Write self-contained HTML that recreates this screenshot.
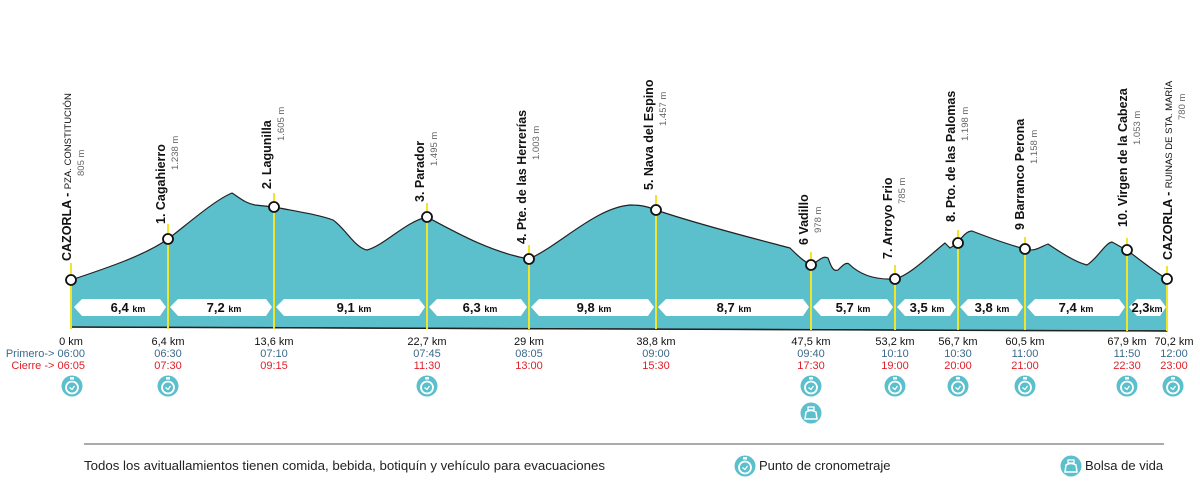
<!DOCTYPE html>
<html><head><meta charset="utf-8"><style>
html,body{margin:0;padding:0;background:#fff;}
svg{display:block;font-family:"Liberation Sans",sans-serif;}
.n{font-weight:bold;font-size:12.5px;fill:#111;}
.a{font-size:9.5px;fill:#666;}
.km{font-size:11px;fill:#111;}
.p{font-size:11px;fill:#3c6a8a;}
.c{font-size:11px;fill:#e0202a;}
.s{font-weight:bold;font-size:13px;fill:#111;}
.su{font-weight:bold;font-size:9px;fill:#111;}
</style></head><body>
<svg width="1200" height="482" viewBox="0 0 1200 482">
<defs>
<g id="clk"><circle r="10.5" fill="#5bbfcc"/><circle cy="1.5" r="6" fill="none" stroke="#fff" stroke-width="1.8"/><rect x="-2" y="-9" width="4" height="2.5" fill="#fff"/><path d="M-2.5 1.5 L0 3.5 L2.5 0" stroke="#fff" stroke-width="1.3" fill="none"/></g>
<g id="bag"><circle r="10.5" fill="#5bbfcc"/><path d="M-6 6 L-5 -1 Q0 -4 5 -1 L6 6 Z" fill="none" stroke="#fff" stroke-width="1.5"/><rect x="-3" y="-6" width="6" height="3" fill="none" stroke="#fff" stroke-width="1.3"/></g>
</defs>
<path d="M71,280 C110,267 145,255 168,239 C190,222 215,200 232,193 C240,198 245,203 255,205 L274,207 C300,212 320,215 333,220 C345,228 355,248 367,250 C385,245 405,222 427,217 C455,232 490,252 529,259 C560,245 595,208 630,205 C645,205 650,208 656,210 C700,225 760,240 790,248 C800,258 805,262 811,265 C818,262 822,255 828,258 C831,266 833,272 838,270 C843,265 846,262 849,264 C860,275 875,280 895,279 C910,275 930,255 945,243 L950,248 L958,243 C963,235 968,231 972,231 C990,238 1010,245 1025,249 C1035,252 1040,247 1048,244 C1060,252 1075,262 1087,265 C1098,258 1105,243 1112,242 C1118,245 1122,248 1127,250 C1140,260 1155,272 1167,279 L1167,331 L71,327 Z" fill="#5bbfcc" stroke="#222" stroke-width="1.2"/>
<line x1="71" y1="327" x2="1167" y2="331" stroke="#222" stroke-width="1.5"/>
<g fill="#fff">
<path d="M74,307 L82,299 L160,299 L166,307 L160,316 L82,316 Z"/>
<path d="M170,307 L178,299 L266,299 L272,307 L266,316 L178,316 Z"/>
<path d="M276,307 L284,299 L419,299 L425,307 L419,316 L284,316 Z"/>
<path d="M429,307 L437,299 L521,299 L527,307 L521,316 L437,316 Z"/>
<path d="M531,307 L539,299 L648,299 L654,307 L648,316 L539,316 Z"/>
<path d="M658,307 L666,299 L803,299 L809,307 L803,316 L666,316 Z"/>
<path d="M813,307 L821,299 L887,299 L893,307 L887,316 L821,316 Z"/>
<path d="M897,307 L905,299 L950,299 L956,307 L950,316 L905,316 Z"/>
<path d="M960,307 L968,299 L1017,299 L1023,307 L1017,316 L968,316 Z"/>
<path d="M1027,307 L1035,299 L1119,299 L1125,307 L1119,316 L1035,316 Z"/>
<path d="M1129,307 L1137,299 L1160,299 L1166,307 L1160,316 L1137,316 Z"/>
</g>
<g text-anchor="middle">
<text x="128" y="312"><tspan class="s">6,4 </tspan><tspan class="su">km</tspan></text>
<text x="224" y="312"><tspan class="s">7,2 </tspan><tspan class="su">km</tspan></text>
<text x="354" y="312"><tspan class="s">9,1 </tspan><tspan class="su">km</tspan></text>
<text x="480" y="312"><tspan class="s">6,3 </tspan><tspan class="su">km</tspan></text>
<text x="594" y="312"><tspan class="s">9,8 </tspan><tspan class="su">km</tspan></text>
<text x="734" y="312"><tspan class="s">8,7 </tspan><tspan class="su">km</tspan></text>
<text x="853" y="312"><tspan class="s">5,7 </tspan><tspan class="su">km</tspan></text>
<text x="927" y="312"><tspan class="s">3,5 </tspan><tspan class="su">km</tspan></text>
<text x="992" y="312"><tspan class="s">3,8 </tspan><tspan class="su">km</tspan></text>
<text x="1076" y="312"><tspan class="s">7,4 </tspan><tspan class="su">km</tspan></text>
<text x="1147" y="312"><tspan class="s">2,3</tspan><tspan class="su">km</tspan></text>
</g>
<g stroke="#f0e52a" stroke-width="2">
<line x1="71" y1="263" x2="71" y2="329"/>
<line x1="168" y1="224" x2="168" y2="329"/>
<line x1="274" y1="193" x2="274" y2="329"/>
<line x1="427" y1="203" x2="427" y2="329"/>
<line x1="529" y1="245" x2="529" y2="329"/>
<line x1="656" y1="195" x2="656" y2="329"/>
<line x1="811" y1="252" x2="811" y2="330"/>
<line x1="895" y1="265" x2="895" y2="330"/>
<line x1="958" y1="230" x2="958" y2="330"/>
<line x1="1025" y1="237" x2="1025" y2="330"/>
<line x1="1127" y1="238" x2="1127" y2="331"/>
<line x1="1167" y1="266" x2="1167" y2="331"/>
</g>
<g fill="#fff" stroke="#111" stroke-width="1.8">
<circle cx="71" cy="280" r="5"/><circle cx="168" cy="239" r="5"/><circle cx="274" cy="207" r="5"/><circle cx="427" cy="217" r="5"/><circle cx="529" cy="259" r="5"/><circle cx="656" cy="210" r="5"/><circle cx="811" cy="265" r="5"/><circle cx="895" cy="279" r="5"/><circle cx="958" cy="243" r="5"/><circle cx="1025" cy="249" r="5"/><circle cx="1127" cy="250" r="5"/><circle cx="1167" cy="279" r="5"/>
</g>
<g>
<text class="n" transform="translate(71,261) rotate(-90)">CAZORLA - <tspan font-size="9.5" font-weight="normal">PZA. CONSTITUCIÓN</tspan></text>
<text class="a" transform="translate(84,176) rotate(-90)">805 m</text>
<text class="n" transform="translate(165,224) rotate(-90)">1. Cagahierro</text>
<text class="a" transform="translate(178,170) rotate(-90)">1.238 m</text>
<text class="n" transform="translate(271,189) rotate(-90)">2. Lagunilla</text>
<text class="a" transform="translate(284,141) rotate(-90)">1.605 m</text>
<text class="n" transform="translate(424,202) rotate(-90)">3. Parador</text>
<text class="a" transform="translate(437,166) rotate(-90)">1.495 m</text>
<text class="n" transform="translate(526,244) rotate(-90)">4. Pte. de las Herrerías</text>
<text class="a" transform="translate(539,160) rotate(-90)">1.003 m</text>
<text class="n" transform="translate(653,190) rotate(-90)">5. Nava del Espino</text>
<text class="a" transform="translate(666,126) rotate(-90)">1.457 m</text>
<text class="n" transform="translate(808,245) rotate(-90)">6 Vadillo</text>
<text class="a" transform="translate(821,233) rotate(-90)">978 m</text>
<text class="n" transform="translate(892,259) rotate(-90)">7. Arroyo Frio</text>
<text class="a" transform="translate(905,204) rotate(-90)">785 m</text>
<text class="n" transform="translate(955,222) rotate(-90)">8. Pto. de las Palomas</text>
<text class="a" transform="translate(968,141) rotate(-90)">1.198 m</text>
<text class="n" transform="translate(1024,230) rotate(-90)">9 Barranco Perona</text>
<text class="a" transform="translate(1037,164) rotate(-90)">1.158 m</text>
<text class="n" transform="translate(1127,227) rotate(-90)">10. Virgen de la Cabeza</text>
<text class="a" transform="translate(1140,145) rotate(-90)">1.053 m</text>
<text class="n" transform="translate(1172,260) rotate(-90)">CAZORLA - <tspan font-size="9.5" font-weight="normal">RUINAS DE STA. MARÍA</tspan></text>
<text class="a" transform="translate(1185,120) rotate(-90)">780 m</text>
</g>
<g text-anchor="middle">
<text class="km" x="71" y="345">0 km</text>
<text class="km" x="168" y="345">6,4 km</text>
<text class="km" x="274" y="345">13,6 km</text>
<text class="km" x="427" y="345">22,7 km</text>
<text class="km" x="529" y="345">29 km</text>
<text class="km" x="656" y="345">38,8 km</text>
<text class="km" x="811" y="345">47,5 km</text>
<text class="km" x="895" y="345">53,2 km</text>
<text class="km" x="958" y="345">56,7 km</text>
<text class="km" x="1025" y="345">60,5 km</text>
<text class="km" x="1127" y="345">67,9 km</text>
<text class="km" x="1174" y="345">70,2 km</text>
<text class="p" x="168" y="357">06:30</text><text class="p" x="274" y="357">07:10</text><text class="p" x="427" y="357">07:45</text><text class="p" x="529" y="357">08:05</text><text class="p" x="656" y="357">09:00</text><text class="p" x="811" y="357">09:40</text><text class="p" x="895" y="357">10:10</text><text class="p" x="958" y="357">10:30</text><text class="p" x="1025" y="357">11:00</text><text class="p" x="1127" y="357">11:50</text><text class="p" x="1174" y="357">12:00</text>
<text class="c" x="168" y="369">07:30</text><text class="c" x="274" y="369">09:15</text><text class="c" x="427" y="369">11:30</text><text class="c" x="529" y="369">13:00</text><text class="c" x="656" y="369">15:30</text><text class="c" x="811" y="369">17:30</text><text class="c" x="895" y="369">19:00</text><text class="c" x="958" y="369">20:00</text><text class="c" x="1025" y="369">21:00</text><text class="c" x="1127" y="369">22:30</text><text class="c" x="1174" y="369">23:00</text>
</g>
<text class="p" x="85" y="357" text-anchor="end">Primero-&gt; 06:00</text>
<text class="c" x="85" y="369" text-anchor="end">Cierre -&gt; 06:05</text>
<use href="#clk" x="72" y="386"/><use href="#clk" x="168" y="386"/><use href="#clk" x="427" y="386"/><use href="#clk" x="811" y="386"/><use href="#clk" x="895" y="386"/><use href="#clk" x="958" y="386"/><use href="#clk" x="1025" y="386"/><use href="#clk" x="1127" y="386"/><use href="#clk" x="1173" y="386"/>
<use href="#bag" x="811" y="413"/>
<line x1="84" y1="444" x2="1164" y2="444" stroke="#777" stroke-width="1.2"/>
<text x="84" y="470" font-size="13" fill="#222" textLength="521" lengthAdjust="spacingAndGlyphs">Todos los avituallamientos tienen comida, bebida, botiquín y vehículo para evacuaciones</text>
<use href="#clk" x="745" y="466"/>
<text x="759" y="470" font-size="13" fill="#222">Punto de cronometraje</text>
<use href="#bag" x="1071" y="466"/>
<text x="1085" y="470" font-size="13" fill="#222">Bolsa de vida</text>
</svg>
</body></html>
